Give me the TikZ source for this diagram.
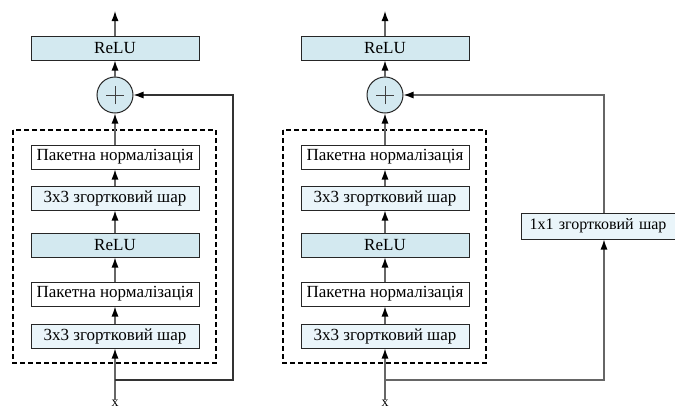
\documentclass[tikz,border=0pt]{standalone}
\usepackage{fontspec}
\setmainfont{Liberation Serif}
\usetikzlibrary{arrows.meta}
\definecolor{reluc}{HTML}{D3E9F0}
\definecolor{convc}{HTML}{EAF5FA}
\tikzset{
  blk/.style={draw=black!85, line width=1pt, minimum width=168pt, minimum height=24pt, inner sep=0pt, font=\fontsize{17}{18}\selectfont},
  relubox/.style={blk, fill=reluc},
  convbox/.style={blk, fill=convc},
  bnbox/.style={blk, fill=white},
  sumnode/.style={circle, draw=black!85, line width=1pt, fill=reluc, minimum size=36pt, inner sep=0pt},
  dbox/.style={draw=black, dashed, line width=1.3pt, dash pattern=on 5pt off 3pt},
  conn/.style={draw=black!60, line width=1.2pt, -{Latex[length=10pt,width=7pt,fill=black,color=black]}},
  lbl/.style={font=\fontsize{14}{15}\selectfont}
}
\begin{document}
\begin{tikzpicture}[x=1pt,y=-1pt]
\useasboundingbox (0,0) rectangle (675,410);
% ---------- left block ----------
\coordinate (Lout) at (115,11);
\node[relubox] (Lrelu2) at (115,48) {ReLU};
\node[sumnode] (Lsum) at (115,95) {};
\draw[black!75, line width=1pt] ([xshift=-9pt]Lsum.center) -- ([xshift=9pt]Lsum.center) ([yshift=-9pt]Lsum.center) -- ([yshift=9pt]Lsum.center);
\draw[dbox] (13,130) rectangle (216,363);
\node[bnbox] (Lbn2) at (115,157) {Пакетна нормалізація};
\node[convbox] (Lc2) at (115,198) {3x3 згортковий шар};
\node[relubox] (Lrelu1) at (115,245) {ReLU};
\node[bnbox] (Lbn1) at (115,294) {Пакетна нормалізація};
\node[convbox] (Lc1) at (115,336) {3x3 згортковий шар};
\node[lbl, inner sep=0pt] (Lx) at (115,403) {x};
\coordinate (Lsplit) at (115,380);
\coordinate (Lc) at (233,380);
\coordinate (Ld) at (233,95);
\draw[conn] (Lx.north) -- (Lc1);
\draw[conn] (Lc1) -- (Lbn1);
\draw[conn] (Lbn1) -- (Lrelu1);
\draw[conn] (Lrelu1) -- (Lc2);
\draw[conn] (Lc2) -- (Lbn2);
\draw[conn] (Lbn2) -- (Lsum);
\draw[conn] (Lsum) -- (Lrelu2);
\draw[conn] (Lrelu2) -- (Lout);
\draw[conn, draw=black!80, line width=1.1pt] (Lsplit) -- (Lc) -- (Ld) -- (Lsum);
% ---------- right block ----------
\coordinate (Rout) at (385,11);
\node[relubox] (Rrelu2) at (385,48) {ReLU};
\node[sumnode] (Rsum) at (385,95) {};
\draw[black!75, line width=1pt] ([xshift=-9pt]Rsum.center) -- ([xshift=9pt]Rsum.center) ([yshift=-9pt]Rsum.center) -- ([yshift=9pt]Rsum.center);
\draw[dbox] (283,130) rectangle (486,363);
\node[bnbox] (Rbn2) at (385,157) {Пакетна нормалізація};
\node[convbox] (Rc2) at (385,198) {3x3 згортковий шар};
\node[relubox] (Rrelu1) at (385,245) {ReLU};
\node[bnbox] (Rbn1) at (385,294) {Пакетна нормалізація};
\node[convbox] (Rc1) at (385,336) {3x3 згортковий шар};
\node[lbl, inner sep=0pt] (Rx) at (385,403) {x};
\node[convbox, minimum width=166pt, minimum height=26pt, anchor=west, inner xsep=8pt, align=left, text width=160pt, font=\fontsize{16}{17}\selectfont] (Rproj) at (521,226) {1x1 згортковий шар};
\coordinate (Rsplit) at (385,380);
\coordinate (Rc) at (604,380);
\coordinate (Rd) at (604,95);
\draw[conn] (Rx.north) -- (Rc1);
\draw[conn] (Rc1) -- (Rbn1);
\draw[conn] (Rbn1) -- (Rrelu1);
\draw[conn] (Rrelu1) -- (Rc2);
\draw[conn] (Rc2) -- (Rbn2);
\draw[conn] (Rbn2) -- (Rsum);
\draw[conn] (Rsum) -- (Rrelu2);
\draw[conn] (Rrelu2) -- (Rout);
\draw[conn] (Rsplit) -- (Rc) -- (Rproj.south -| Rc);
\draw[conn] (Rproj.north -| Rd) -- (Rd) -- (Rsum);
\end{tikzpicture}
\end{document}
